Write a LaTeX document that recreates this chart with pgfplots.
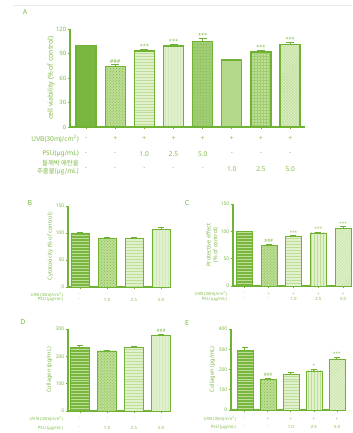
\documentclass[border=0pt]{standalone}
\usepackage{pgfplots}
\pgfplotsset{compat=1.18}
\usepackage{fontspec}
\setmainfont{Noto Sans}
\newfontfamily\kr{Noto Sans CJK KR}
\usetikzlibrary{patterns}
\definecolor{gline}{RGB}{112,178,52}
\definecolor{gtext}{RGB}{125,185,70}
\definecolor{gmid}{RGB}{122,183,64}
\definecolor{gmid2}{RGB}{160,205,115}
\definecolor{glt}{RGB}{190,222,150}
\definecolor{gpale}{RGB}{225,240,205}
\tikzset{
  sig/.style={anchor=south, text=gtext, font=\fontsize{5.5}{5.5}\selectfont, inner sep=0.8bp},
  rowA/.style={text=gtext, font=\fontsize{6.6}{6.6}\selectfont, inner sep=0pt},
  rowB/.style={text=gtext, font=\bfseries\fontsize{4.3}{4.3}\selectfont, inner sep=0pt},
}
\pgfplotsset{
  prism/.style={
    scale only axis, anchor=south west, clip=false,
    axis lines*=left, axis line style={gline, line width=1.1bp},
    ymin=0, ybar, bar shift=0pt,
    tick align=outside, major tick length=2.5bp,
    tick style={gline, line width=0.8bp},
    xticklabels={}, 
    /pgf/number format/assume math mode=true,
    yticklabel style={text=gtext, font=\fontsize{5}{5}\selectfont, inner sep=1bp},
    ylabel style={text=gtext, font=\bfseries\fontsize{5.7}{6.7}\selectfont, align=center},
  },
  b1/.style={fill=gmid, draw=gline},
  b2/.style={fill=glt, draw=gline, postaction={pattern=crosshatch dots, pattern color=gmid}},
  b3/.style={fill=gpale, draw=gline, postaction={pattern=horizontal lines, pattern color=glt}},
  b4/.style={fill=gpale, draw=gline, postaction={pattern=vertical lines, pattern color=glt}},
  b5/.style={fill=gmid2, draw=gline, postaction={pattern=dots, pattern color=gmid}},
  b6/.style={fill=glt!70!gmid2, draw=gline},
  b7/.style={fill=glt, draw=gline, postaction={pattern=grid, pattern color=gmid2}},
  b8/.style={fill=gpale, draw=gline, postaction={pattern=crosshatch, pattern color=glt}},
  b9/.style={fill=gmid, draw=gline, postaction={pattern=horizontal lines, pattern color=glt}},
  b10/.style={fill=gpale, draw=gline, postaction={pattern=north east lines, pattern color=glt}},
  eb/.style={error bars/.cd, y dir=plus, y explicit,
    error bar style={gline, line width=1bp},
    error mark options={gline, rotate=90, mark size=#1, line width=1bp}},
  eb/.default=4bp,
}
\begin{document}
\begin{tikzpicture}[x=1bp,y=1bp]
\path[use as bounding box] (0,0) rectangle (352,433);
\draw[black!8, line width=0.6bp] (13,428) -- (352,428);
\node[text=gtext, font=\fontsize{7}{7}\selectfont] at (25,421) {A};
\node[text=gtext, font=\fontsize{7}{7}\selectfont] at (30,230) {B};
\node[text=gtext, font=\fontsize{7}{7}\selectfont] at (187,230) {C};
\node[text=gtext, font=\fontsize{7}{7}\selectfont] at (23,111) {D};
\node[text=gtext, font=\fontsize{7}{7}\selectfont] at (187,110) {E};
% row labels of panel A
\node[rowA, anchor=east] at (79,294) {UVB(30mJ/cm\textsuperscript{2})};
\node[rowA, anchor=east] at (79,279) {PSU(μg/mL)};
\node[rowA, anchor=east, align=right, font=\kr\fontsize{6.4}{8}\selectfont] at (79,265) {들깨박 에탄올\\추출물(μg/mL)};

% ---------------- A
\begin{axis}[prism, at={(70bp,306bp)}, width=235bp, height=98bp,
  xmin=-0.55, xmax=7.51, ymax=120, ytick={0,30,60,90,120}, xtick={0,...,7},
  bar width=20bp, axis line style={gline, line width=1.4bp},
  yticklabel style={font=\fontsize{6}{6}\selectfont},
  ylabel={cell viability (\% of control)},
  ylabel style={font=\bfseries\fontsize{7}{8}\selectfont}, ylabel shift=-3bp]
\addplot[b1, line width=1.3bp] coordinates {(0,100)};
\addplot[b2, line width=1.3bp, eb] coordinates {(1,74) +- (0,2)};
\addplot[b3, line width=1.3bp, eb] coordinates {(2,93) +- (0,2)};
\addplot[b4, line width=1.3bp, eb] coordinates {(3,99) +- (0,1.5)};
\addplot[b5, line width=1.3bp, eb] coordinates {(4,105) +- (0,3)};
\addplot[b6, line width=1.3bp, eb] coordinates {(5,82) +- (0,1)};
\addplot[b7, line width=1.3bp, eb] coordinates {(6,92) +- (0,1.5)};
\addplot[b8, line width=1.3bp, eb] coordinates {(7,101) +- (0,2.5)};
\node[sig] at (axis cs:1,76) {\#\#\#};
\node[sig] at (axis cs:2,95) {***};
\node[sig] at (axis cs:3,100.5) {***};
\node[sig] at (axis cs:4,108) {***};
\node[sig] at (axis cs:6,93.5) {***};
\node[sig] at (axis cs:7,103.5) {***};
\node[rowA, yshift=-12bp] at (axis cs:0,0) {-};
\node[rowA, yshift=-12bp] at (axis cs:1,0) {+};
\node[rowA, yshift=-12bp] at (axis cs:2,0) {+};
\node[rowA, yshift=-12bp] at (axis cs:3,0) {+};
\node[rowA, yshift=-12bp] at (axis cs:4,0) {+};
\node[rowA, yshift=-12bp] at (axis cs:5,0) {+};
\node[rowA, yshift=-12bp] at (axis cs:6,0) {+};
\node[rowA, yshift=-12bp] at (axis cs:7,0) {+};
\node[rowA, yshift=-27bp] at (axis cs:0,0) {-};
\node[rowA, yshift=-27bp] at (axis cs:1,0) {-};
\node[rowA, yshift=-27bp] at (axis cs:2,0) {1.0};
\node[rowA, yshift=-27bp] at (axis cs:3,0) {2.5};
\node[rowA, yshift=-27bp] at (axis cs:4,0) {5.0};
\node[rowA, yshift=-27bp] at (axis cs:5,0) {-};
\node[rowA, yshift=-27bp] at (axis cs:6,0) {-};
\node[rowA, yshift=-27bp] at (axis cs:7,0) {-};
\node[rowA, yshift=-42bp] at (axis cs:0,0) {-};
\node[rowA, yshift=-42bp] at (axis cs:1,0) {-};
\node[rowA, yshift=-42bp] at (axis cs:2,0) {-};
\node[rowA, yshift=-42bp] at (axis cs:3,0) {-};
\node[rowA, yshift=-42bp] at (axis cs:4,0) {-};
\node[rowA, yshift=-42bp] at (axis cs:5,0) {1.0};
\node[rowA, yshift=-42bp] at (axis cs:6,0) {2.5};
\node[rowA, yshift=-42bp] at (axis cs:7,0) {5.0};
\end{axis}

% ---------------- B
\begin{axis}[prism, at={(68bp,146bp)}, width=102bp, height=81bp,
  xmin=-0.44, xmax=3.33, ymax=150, ytick={0,50,100,150}, xtick={0,...,3},
  bar width=18bp, ylabel={Cytotoxicity (\% of control)}, ylabel shift=-2bp]
\addplot[b9, eb=3bp] coordinates {(0,100) +- (0,1)};
\addplot[b2, eb=3bp] coordinates {(1,90) +- (0,1.5)};
\addplot[b3, eb=3bp] coordinates {(2,90) +- (0,1)};
\addplot[b4, eb=3bp] coordinates {(3,107) +- (0,2.5)};
\node[rowB, anchor=east, xshift=-5bp, yshift=-7.5bp] at (axis cs:-0.44,0) {UVB (30mJ/cm\textsuperscript{2})};
\node[rowB, anchor=east, xshift=-5bp, yshift=-12.5bp] at (axis cs:-0.44,0) {PSU (μg/mL)};
\node[rowB, yshift=-7.5bp] at (axis cs:0,0) {-};
\node[rowB, yshift=-7.5bp] at (axis cs:1,0) {-};
\node[rowB, yshift=-7.5bp] at (axis cs:2,0) {-};
\node[rowB, yshift=-7.5bp] at (axis cs:3,0) {-};
\node[rowB, yshift=-12.5bp] at (axis cs:0,0) {-};
\node[rowB, yshift=-12.5bp] at (axis cs:1,0) {1.0};
\node[rowB, yshift=-12.5bp] at (axis cs:2,0) {2.5};
\node[rowB, yshift=-12.5bp] at (axis cs:3,0) {5.0};
\end{axis}

% ---------------- C
\begin{axis}[prism, at={(233bp,147bp)}, width=117bp, height=82bp,
  xmin=-0.44, xmax=4.28, ymax=150, ytick={0,50,100,150}, xtick={0,...,4},
  bar width=16bp, ylabel={Protective effect\\(\% of control)}, ylabel shift=-2bp]
\addplot[b9, eb=3bp] coordinates {(0,100) +- (0,0.5)};
\addplot[b2, eb=3bp] coordinates {(1,74) +- (0,2)};
\addplot[b3, eb=3bp] coordinates {(2,91) +- (0,1)};
\addplot[b4, eb=3bp] coordinates {(3,97) +- (0,1)};
\addplot[b10, eb=3bp] coordinates {(4,105) +- (0,3)};
\node[sig, font=\fontsize{4.5}{4.5}\selectfont] at (axis cs:1,78) {\#\#\#};
\node[sig, font=\fontsize{4.5}{4.5}\selectfont] at (axis cs:2,93) {***};
\node[sig, font=\fontsize{4.5}{4.5}\selectfont] at (axis cs:3,99) {***};
\node[sig, font=\fontsize{4.5}{4.5}\selectfont] at (axis cs:4,109) {***};
\node[rowB, anchor=east, xshift=-6bp, yshift=-8bp] at (axis cs:-0.44,0) {UVB (30mJ/cm\textsuperscript{2})};
\node[rowB, anchor=east, xshift=-6bp, yshift=-13bp] at (axis cs:-0.44,0) {PSU (μg/mL)};
\node[rowB, yshift=-8bp] at (axis cs:0,0) {-};
\node[rowB, yshift=-8bp] at (axis cs:1,0) {+};
\node[rowB, yshift=-8bp] at (axis cs:2,0) {+};
\node[rowB, yshift=-8bp] at (axis cs:3,0) {+};
\node[rowB, yshift=-8bp] at (axis cs:4,0) {+};
\node[rowB, yshift=-13bp] at (axis cs:0,0) {-};
\node[rowB, yshift=-13bp] at (axis cs:1,0) {-};
\node[rowB, yshift=-13bp] at (axis cs:2,0) {1.0};
\node[rowB, yshift=-13bp] at (axis cs:3,0) {2.5};
\node[rowB, yshift=-13bp] at (axis cs:4,0) {5.0};
\end{axis}

% ---------------- D
\begin{axis}[prism, at={(68bp,22bp)}, width=102bp, height=82bp,
  xmin=-0.44, xmax=3.33, ymax=300, ytick={0,100,200,300}, xtick={0,...,3},
  bar width=19bp, ylabel={Collagen (pg/mL)}, ylabel shift=-1bp]
\addplot[b9, eb=3bp] coordinates {(0,235) +- (0,4)};
\addplot[b2, eb=3bp] coordinates {(1,220) +- (0,3)};
\addplot[b3, eb=3bp] coordinates {(2,232) +- (0,4)};
\addplot[b4, eb=3bp] coordinates {(3,278) +- (0,3)};
\node[sig, font=\fontsize{4.5}{4.5}\selectfont] at (axis cs:3,284) {\#\#\#};
\node[rowB, anchor=east, xshift=-5bp, yshift=-8.3bp] at (axis cs:-0.44,0) {UV B (30mJ/cm\textsuperscript{2})};
\node[rowB, anchor=east, xshift=-5bp, yshift=-17bp] at (axis cs:-0.44,0) {PSU (μg/mL)};
\node[rowB, yshift=-8.3bp] at (axis cs:0,0) {-};
\node[rowB, yshift=-8.3bp] at (axis cs:1,0) {-};
\node[rowB, yshift=-8.3bp] at (axis cs:2,0) {-};
\node[rowB, yshift=-8.3bp] at (axis cs:3,0) {-};
\node[rowB, yshift=-17bp] at (axis cs:0,0) {-};
\node[rowB, yshift=-17bp] at (axis cs:1,0) {1.0};
\node[rowB, yshift=-17bp] at (axis cs:2,0) {2.5};
\node[rowB, yshift=-17bp] at (axis cs:3,0) {5.0};
\end{axis}

% ---------------- E
\begin{axis}[prism, at={(231bp,23bp)}, width=114bp, height=81bp,
  xmin=-0.6, xmax=4.35, ymax=400, ytick={0,100,200,300,400}, xtick={0,...,4},
  bar width=16bp, ylabel={Collagen (pg/mL)}, ylabel shift=-1bp]
\addplot[b9, eb=3bp] coordinates {(0,295) +- (0,12)};
\addplot[b2, eb=3bp] coordinates {(1,150) +- (0,8)};
\addplot[b3, eb=3bp] coordinates {(2,178) +- (0,5)};
\addplot[b4, eb=3bp] coordinates {(3,193) +- (0,8)};
\addplot[b10, eb=3bp] coordinates {(4,250) +- (0,7)};
\node[sig, font=\fontsize{4.5}{4.5}\selectfont] at (axis cs:1,162) {\#\#\#};
\node[sig, font=\fontsize{4.5}{4.5}\selectfont] at (axis cs:3,205) {*};
\node[sig, font=\fontsize{4.5}{4.5}\selectfont] at (axis cs:4,262) {***};
\node[rowB, anchor=east, xshift=5bp, yshift=-9bp] at (axis cs:-0.6,0) {UVB (30mJ/cm\textsuperscript{2})};
\node[rowB, anchor=east, xshift=5bp, yshift=-17bp] at (axis cs:-0.6,0) {PSU (μg/mL)};
\node[rowB, yshift=-9bp] at (axis cs:0,0) {-};
\node[rowB, yshift=-9bp] at (axis cs:1,0) {+};
\node[rowB, yshift=-9bp] at (axis cs:2,0) {+};
\node[rowB, yshift=-9bp] at (axis cs:3,0) {+};
\node[rowB, yshift=-9bp] at (axis cs:4,0) {+};
\node[rowB, yshift=-17bp] at (axis cs:0,0) {-};
\node[rowB, yshift=-17bp] at (axis cs:1,0) {-};
\node[rowB, yshift=-17bp] at (axis cs:2,0) {1.0};
\node[rowB, yshift=-17bp] at (axis cs:3,0) {2.5};
\node[rowB, yshift=-17bp] at (axis cs:4,0) {5.0};
\end{axis}
\end{tikzpicture}
\end{document}
